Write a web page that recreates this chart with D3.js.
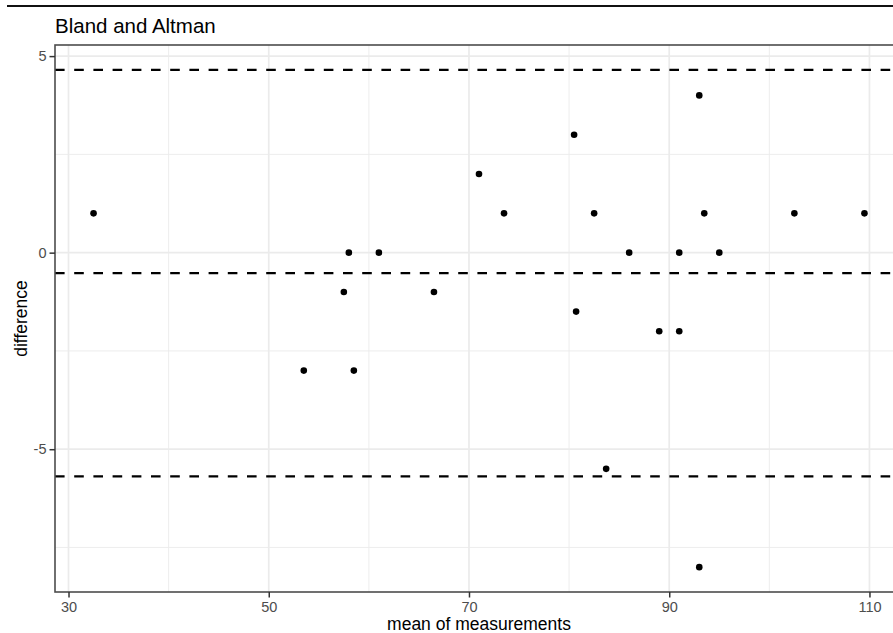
<!DOCTYPE html>
<html>
<head>
<meta charset="utf-8">
<script src="https://cdn.jsdelivr.net/npm/d3@7"></script>
<style>
  body { margin: 0; background: #fff; }
  svg text { font-family: "Liberation Sans", Arial, Helvetica, sans-serif; }
</style>
</head>
<body>
<div id="chart"></div>
<script>
// mean of the two measurements, and their difference
var meanVals = [32.5, 53.5, 57.5, 58, 58.5, 61, 66.5, 71, 73.5, 80.5, 80.7, 82.5, 83.7, 86, 89, 91, 91, 93, 93, 93.5, 95, 102.5, 109.5];
var diffVals = [1, -3, -1, 0, -3, 0, -1, 2, 1, 3, -1.5, 1, -5.5, 0, -2, -2, 0, 4, -8, 1, 0, 1, 1];
// upper limit, mean difference, lower limit
var limitVals = [4.65, -0.52, -5.69];
var xTicks = [30, 50, 70, 90, 110];
var xMinor = [40, 60, 80, 100];
var yTicks = [-5, 0, 5];
var yMinor = [-7.5, -2.5, 2.5];

var W = 893, H = 633;
var margin = {top: 45, right: -10, bottom: 41, left: 55},
    width = W - margin.left - margin.right,
    height = H - margin.top - margin.bottom;

var points = meanVals.map((m, i) => ({x: m, y: diffVals[i]}));

// ggplot style 5% expansion
var expand = function(ext) {
    var pad = (ext[1] - ext[0]) * 0.05;
    return [ext[0] - pad, ext[1] + pad];
};

var xScale = d3.scaleLinear()
    .domain(expand(d3.extent(meanVals)))
    .range([0, width]);
var yScale = d3.scaleLinear()
    .domain(expand(d3.extent(diffVals.concat(limitVals))))
    .range([height, 0]);

var svg = d3.select('#chart').append('svg')
    .attr('width', W)
    .attr('height', H);

// frame line at the top of the image
svg.append('line')
    .attr('x1', 7).attr('x2', W)
    .attr('y1', 6).attr('y2', 6)
    .style('stroke', '#111')
    .style('stroke-width', 2);

svg.append('text')
    .attr('x', 55)
    .attr('y', 32.5)
    .style('font-size', '20.5px')
    .style('fill', '#000')
    .text('Bland and Altman');

var g = svg.append('g')
    .attr('transform', 'translate(' + margin.left + ',' + margin.top + ')');

// grid
g.selectAll('.xminor').data(xMinor).enter().append('line')
    .attr('x1', d => xScale(d)).attr('x2', d => xScale(d))
    .attr('y1', 0).attr('y2', height)
    .style('stroke', '#ebebeb').style('stroke-width', 0.9);
g.selectAll('.yminor').data(yMinor).enter().append('line')
    .attr('x1', 0).attr('x2', width)
    .attr('y1', d => yScale(d)).attr('y2', d => yScale(d))
    .style('stroke', '#ebebeb').style('stroke-width', 0.9);
g.selectAll('.xmajor').data(xTicks).enter().append('line')
    .attr('x1', d => xScale(d)).attr('x2', d => xScale(d))
    .attr('y1', 0).attr('y2', height)
    .style('stroke', '#ebebeb').style('stroke-width', 1.7);
g.selectAll('.ymajor').data(yTicks).enter().append('line')
    .attr('x1', 0).attr('x2', width)
    .attr('y1', d => yScale(d)).attr('y2', d => yScale(d))
    .style('stroke', '#ebebeb').style('stroke-width', 1.7);

// limits of agreement
g.selectAll('.limit').data(limitVals).enter().append('line')
    .attr('x1', 0).attr('x2', width)
    .attr('y1', d => yScale(d)).attr('y2', d => yScale(d))
    .style('stroke', '#000')
    .style('stroke-width', 2.4)
    .style('stroke-dasharray', '9.6,9.6');

g.selectAll('circle').data(points).enter().append('circle')
    .attr('cx', d => xScale(d.x))
    .attr('cy', d => yScale(d.y))
    .attr('r', 3.3)
    .style('fill', '#000');

// panel border
g.append('rect')
    .attr('width', width).attr('height', height)
    .style('fill', 'none')
    .style('stroke', '#4d4d4d')
    .style('stroke-width', 1.6);

// axes
var fmt = d => String(d);
var xAxis = d3.axisBottom(xScale).tickValues(xTicks).tickFormat(fmt).tickSize(5.5).tickPadding(4);
var yAxis = d3.axisLeft(yScale).tickValues(yTicks).tickFormat(fmt).tickSize(5.5).tickPadding(3);

var gx = g.append('g').attr('transform', 'translate(0,' + height + ')').call(xAxis);
var gy = g.append('g').call(yAxis);
[gx, gy].forEach(a => {
    a.select('.domain').remove();
    a.selectAll('.tick line').style('stroke', '#333').style('stroke-width', 1.5);
    a.selectAll('.tick text')
        .style('font-size', '14.5px')
        .style('fill', '#4d4d4d')
        .style('font-family', '"Liberation Sans", Arial, sans-serif');
});

g.append('text')
    .attr('x', width / 2)
    .attr('y', height + 38)
    .attr('text-anchor', 'middle')
    .style('font-size', '17.5px')
    .text('mean of measurements');

g.append('text')
    .attr('transform', 'rotate(-90)')
    .attr('x', -height / 2)
    .attr('y', -28)
    .attr('text-anchor', 'middle')
    .style('font-size', '17.5px')
    .text('difference');
</script>
</body>
</html>
